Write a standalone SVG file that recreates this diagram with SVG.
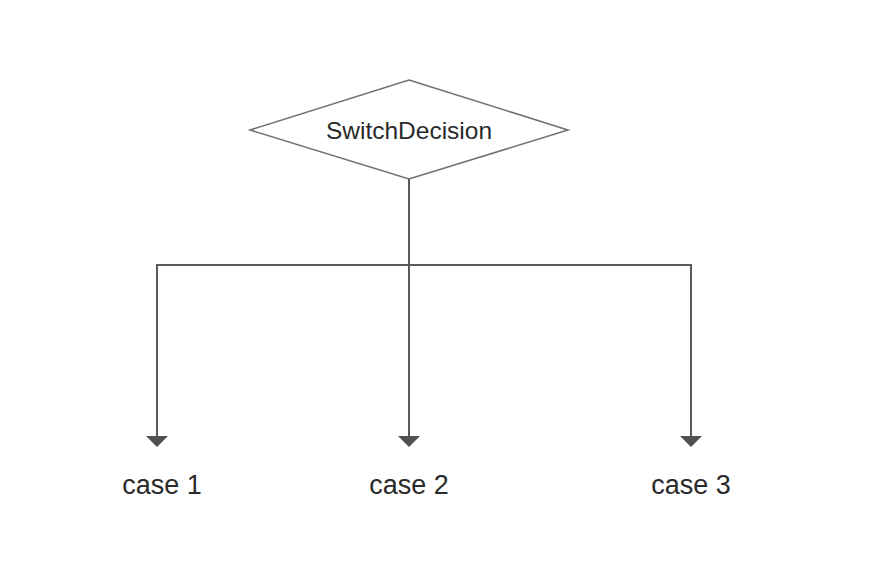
<svg xmlns="http://www.w3.org/2000/svg" width="896" height="580" viewBox="0 0 896 580">
<style>
.edge{fill:none;stroke:#5a5a5a;stroke-width:2}
.head{fill:#505050;stroke:none}
.node{fill:#fff;stroke:#707070;stroke-width:1.5}
.lbl{font-family:"Liberation Sans",Arial,sans-serif;fill:#2a2a2a;text-anchor:middle}
</style>
<rect width="896" height="580" fill="#fff"/>
<g id="connectors">
<path class="edge" d="M409,179 V436"/>
<path class="edge" d="M157,436 V265 H691 V436"/>
<polygon class="head" points="146,436 168,436 157,447"/>
<polygon class="head" points="398,436 420,436 409,447"/>
<polygon class="head" points="680,436 702,436 691,447"/>
</g>
<g id="switch">
<polygon class="node" points="409,80 568,130 409,179 250,130"/>
<text class="lbl" x="409" y="139" font-size="24.5">SwitchDecision</text>
</g>
<g id="case1"><text class="lbl" x="162" y="494" font-size="27">case 1</text></g>
<g id="case2"><text class="lbl" x="409" y="494" font-size="27">case 2</text></g>
<g id="case3"><text class="lbl" x="691" y="494" font-size="27">case 3</text></g>
</svg>
